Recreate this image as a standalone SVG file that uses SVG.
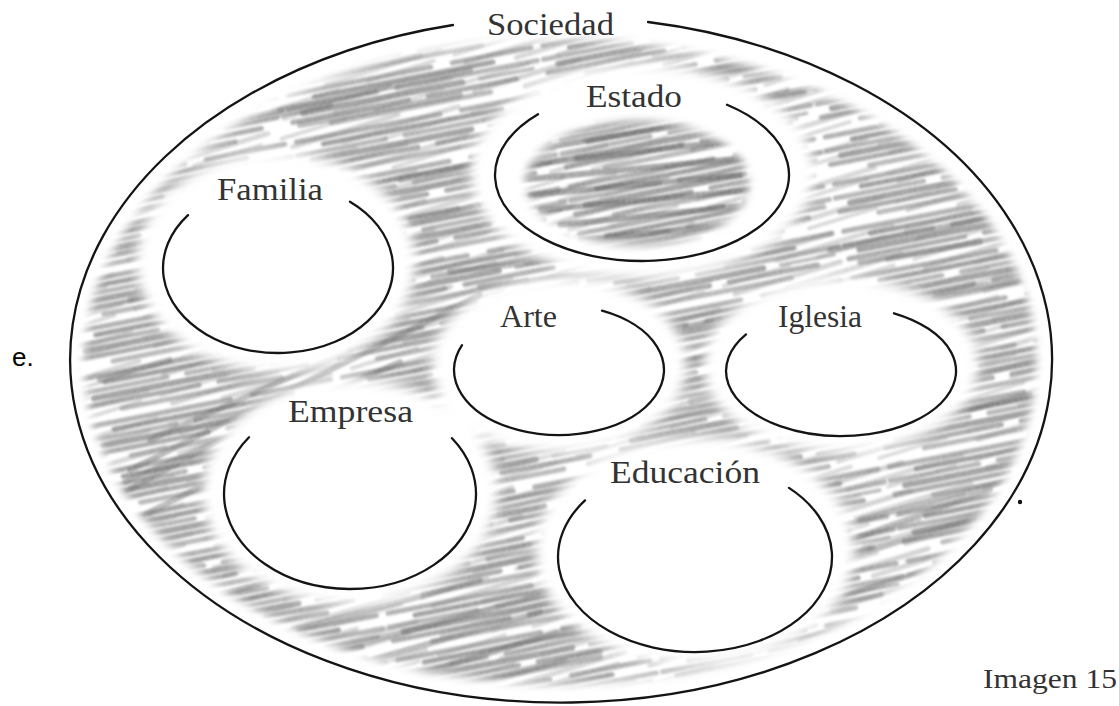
<svg xmlns="http://www.w3.org/2000/svg" width="1119" height="706" viewBox="0 0 1119 706">
<style>
.arc{fill:none;stroke:#141414;stroke-width:2.3;stroke-linecap:round}
.lbl{font-family:"Liberation Serif","Times New Roman",serif;font-size:31px;fill:#333}
.dk{fill:none;stroke-linecap:round}
</style>
<defs>
<filter id="soft" x="-30%" y="-30%" width="160%" height="160%"><feGaussianBlur stdDeviation="6"/></filter>
<filter id="soft2" x="-30%" y="-30%" width="160%" height="160%"><feGaussianBlur stdDeviation="4"/></filter>
<filter id="pencil" x="0" y="0" width="100%" height="100%">
<feTurbulence type="fractalNoise" baseFrequency="0.35 0.9" numOctaves="1" seed="5" result="n"/>
<feColorMatrix in="n" type="matrix" values="0 0 0 0 0  0 0 0 0 0  0 0 0 0 0  0 0 0 -0.6 1.15" result="a"/>
<feComposite in="SourceGraphic" in2="a" operator="in" result="g"/>
<feGaussianBlur in="g" stdDeviation="1.1"/>
</filter>
<pattern id="strokesA" patternUnits="userSpaceOnUse" width="260" height="48" patternTransform="rotate(-11)">
<g class="dk">
<path d="M4 4H150M172 4H252" stroke="#a6a6a6" stroke-width="5"/>
<path d="M30 11H212" stroke="#929292" stroke-width="5"/>
<path d="M2 18H92M112 18H256" stroke="#adadad" stroke-width="5"/>
<path d="M16 25H178" stroke="#979797" stroke-width="6"/>
<path d="M196 25H250" stroke="#b8b8b8" stroke-width="4"/>
<path d="M4 32H122M142 32H232" stroke="#a0a0a0" stroke-width="5"/>
<path d="M42 40H204" stroke="#b0b0b0" stroke-width="5"/>
</g>
</pattern>
<pattern id="strokesB" patternUnits="userSpaceOnUse" width="190" height="30" patternTransform="rotate(-17) translate(37 11)">
<g class="dk">
<path d="M10 5H120" stroke="#6f6f6f" stroke-width="5"/>
<path d="M60 15H180" stroke="#7c7c7c" stroke-width="5"/>
<path d="M0 24H70M100 24H170" stroke="#858585" stroke-width="4"/>
</g>
</pattern>
<mask id="shadeMask" maskUnits="userSpaceOnUse" x="0" y="0" width="1119" height="706">
<ellipse cx="560" cy="362" rx="476" ry="322" fill="#fff" filter="url(#soft2)"/>
<g fill="#000" filter="url(#soft)">
<ellipse cx="276" cy="262" rx="140" ry="110"/>
<ellipse cx="642" cy="172" rx="172" ry="108"/>
<ellipse cx="559" cy="365" rx="128" ry="88"/>
<ellipse cx="841" cy="365" rx="138" ry="88"/>
<ellipse cx="350" cy="492" rx="148" ry="113"/>
<ellipse cx="695" cy="551" rx="160" ry="114"/>
</g>
<ellipse cx="637" cy="183" rx="112" ry="62" fill="#fff" filter="url(#soft2)"/>
</mask>
</defs>
<rect width="1119" height="706" fill="#fff"/>
<g id="shading" mask="url(#shadeMask)">
<g filter="url(#pencil)">
<rect x="60" y="10" width="1010" height="696" fill="url(#strokesA)"/>
<rect x="60" y="10" width="1010" height="696" fill="url(#strokesB)" opacity="0.35"/>
<path class="dk" stroke="#555" stroke-width="6" opacity="0.45" d="M250 95L420 55M280 110L470 70M300 125L460 95M200 130L330 105M130 470L480 295M125 482L400 362M150 440L350 350M110 500L220 440M130 522L210 482M300 660L560 590M330 672L540 612M380 686L580 626M250 642L480 580M430 692L600 652M200 600L330 565M840 560L1000 510M850 540L990 490M830 600L960 560M860 520L1010 480M800 640L920 600M780 662L900 622M700 75L860 45M750 100L900 70M830 250L1000 215M860 262L980 242M670 330L740 315M680 362L730 352M690 402L750 387M450 272L700 242M480 287L720 257M400 180L470 165M410 220L480 205M900 300L1020 280M920 420L1030 395M130 300L190 285M100 380L170 360"/>
<path class="dk" stroke="#4a4a4a" stroke-width="6" opacity="0.55" d="M545 135L680 112M530 150L700 122M525 165L740 140M520 180L745 158M530 195L740 175M540 210L750 190M560 225L750 205M580 240L730 225"/>
</g>
</g>
<g id="connectors"/>
<g id="sociedad">
<path class="arc" d="M648 22A491 343 0 1 1 453 25"/>
<circle cx="1020" cy="502" r="2.2" fill="#111"/>
<text class="lbl" x="487" y="35" textLength="127" lengthAdjust="spacingAndGlyphs">Sociedad</text>
</g>
<g id="estado">
<path class="arc" d="M538 114.2A147 86 0 1 0 727 104.8"/>
<text class="lbl" x="586" y="107" textLength="96" lengthAdjust="spacingAndGlyphs">Estado</text>
</g>
<g id="familia">
<path class="arc" d="M188 215.1A115 85 0 1 0 350 201.7"/>
<text class="lbl" x="217" y="200" textLength="106" lengthAdjust="spacingAndGlyphs">Familia</text>
</g>
<g id="arte">
<path class="arc" d="M462 345.1A105 65 0 1 0 602 310.7"/>
<text class="lbl" x="500" y="327" textLength="57" lengthAdjust="spacingAndGlyphs">Arte</text>
</g>
<g id="iglesia">
<path class="arc" d="M746 334.4A115 65 0 1 0 894 313.3"/>
<text class="lbl" x="778" y="327" textLength="84" lengthAdjust="spacingAndGlyphs">Iglesia</text>
</g>
<g id="empresa">
<path class="arc" d="M249 437.2A126 95 0 1 0 452 438.2"/>
<text class="lbl" x="288" y="422" textLength="125" lengthAdjust="spacingAndGlyphs">Empresa</text>
</g>
<g id="educacion">
<path class="arc" d="M585 500.4A137 95 0 1 0 789 487.9"/>
<text class="lbl" x="610" y="483" textLength="150" lengthAdjust="spacingAndGlyphs">Educación</text>
</g>
<text x="12" y="366" font-family="'Liberation Sans',Arial,sans-serif" font-size="26" fill="#000">e.</text>
<text class="lbl" x="983" y="688" style="font-size:28px" textLength="134" lengthAdjust="spacingAndGlyphs">Imagen 15</text>
</svg>
